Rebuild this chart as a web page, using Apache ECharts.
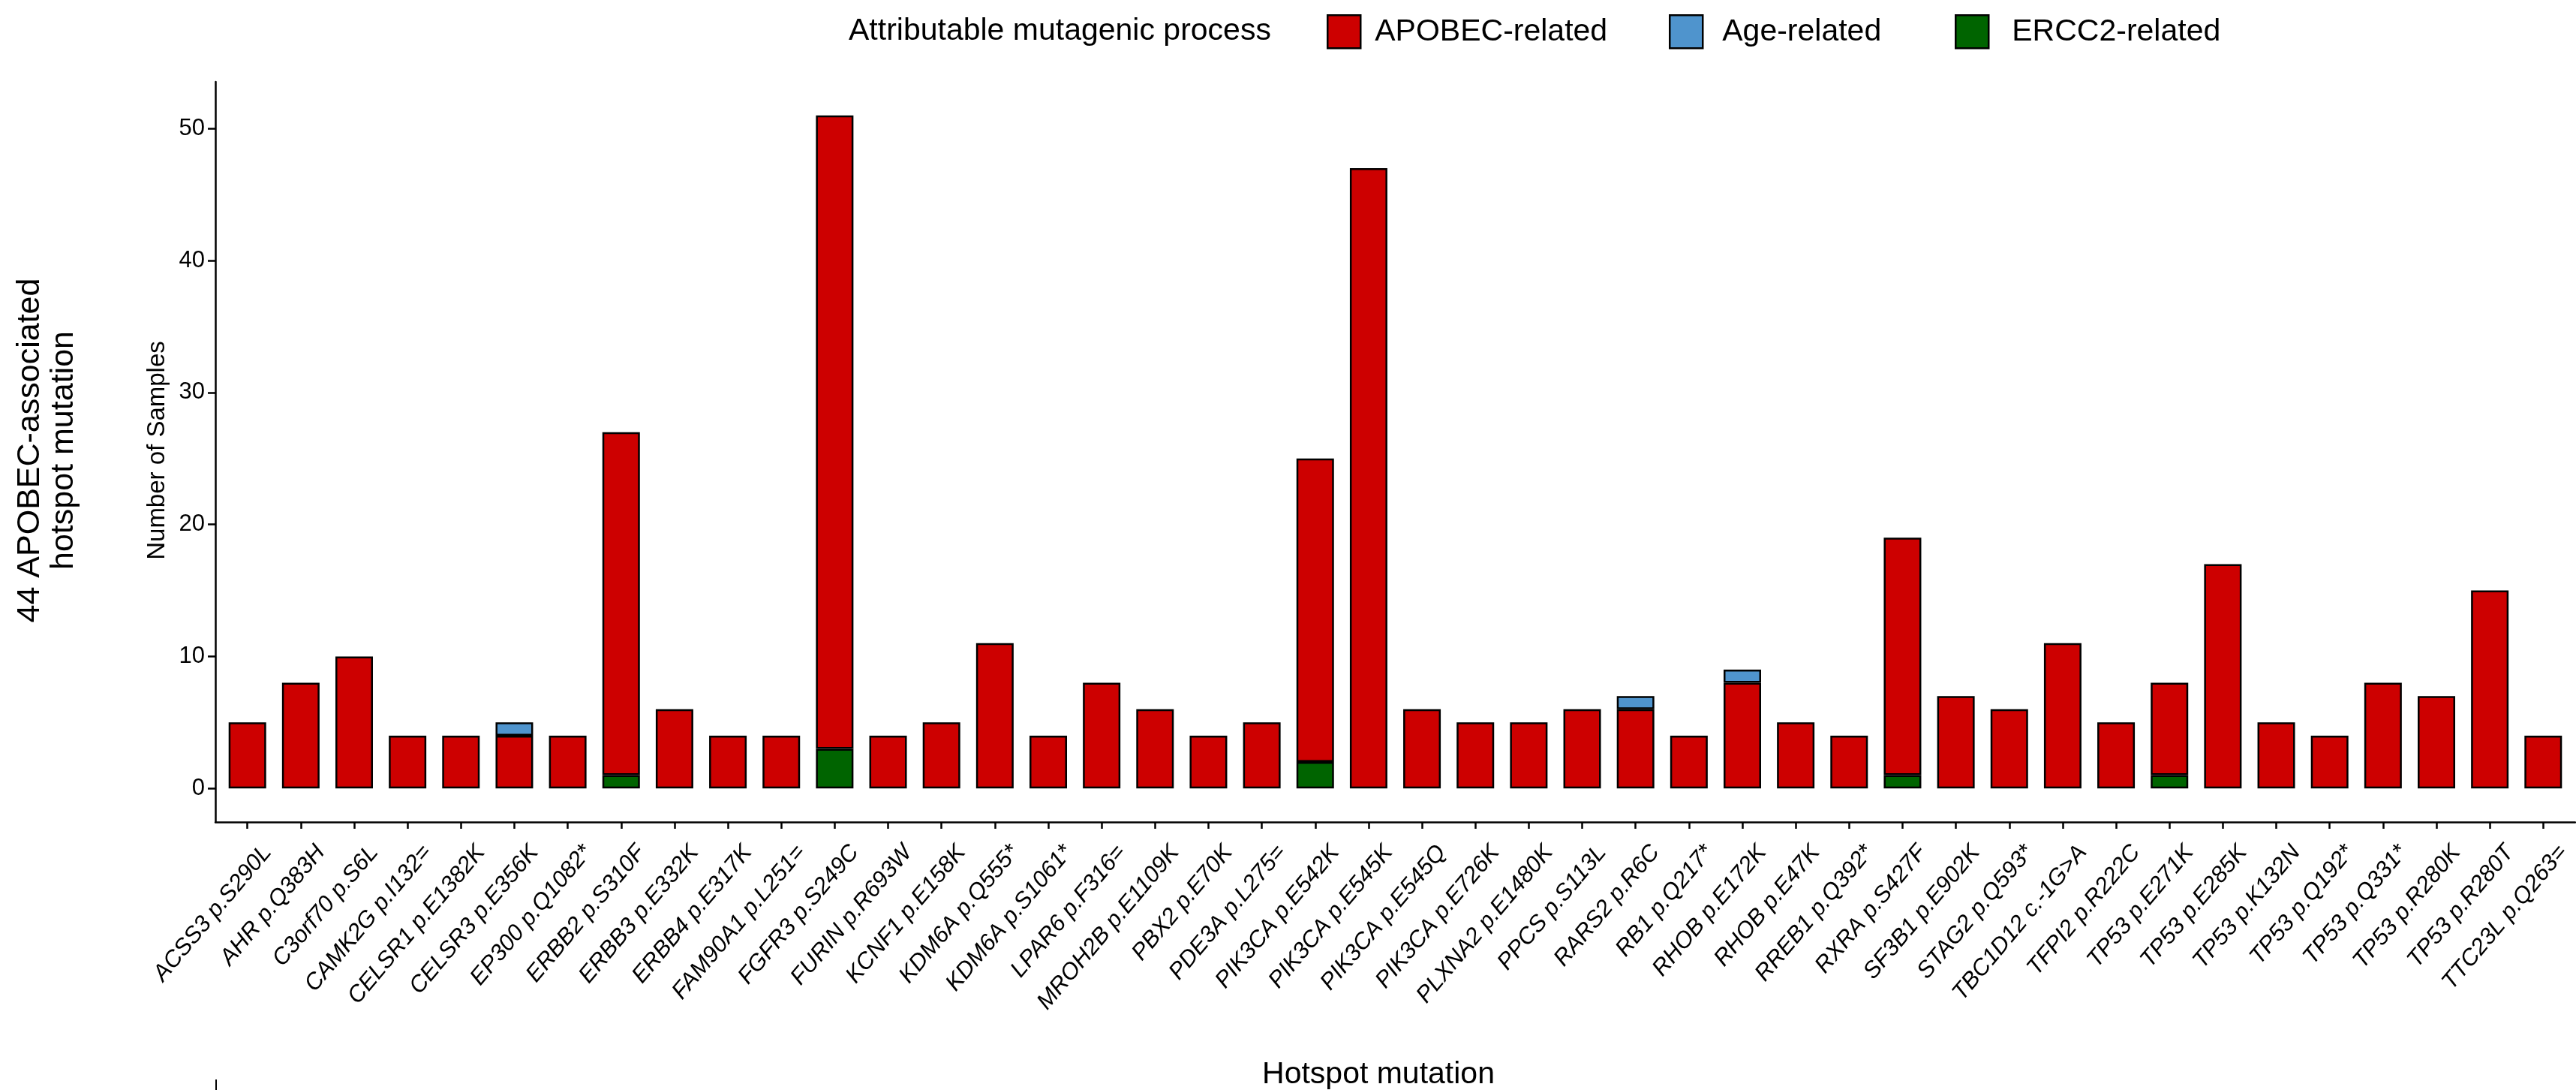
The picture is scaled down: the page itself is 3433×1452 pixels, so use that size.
<!DOCTYPE html>
<html>
<head>
<meta charset="utf-8">
<script src="https://cdn.jsdelivr.net/npm/echarts@6/dist/echarts.min.js"></script>
<style>
  html, body { margin: 0; padding: 0; background: #fff; }
  #chart { width: 3433px; height: 1452px; }
</style>
</head>
<body>
<div id="chart"></div>
<script>
// Hotspot mutations (x axis, in order)
const categories = [
  'ACSS3 p.S290L', 'AHR p.Q383H', 'C3orf70 p.S6L', 'CAMK2G p.I132=', 'CELSR1 p.E1382K',
  'CELSR3 p.E356K', 'EP300 p.Q1082*', 'ERBB2 p.S310F', 'ERBB3 p.E332K', 'ERBB4 p.E317K',
  'FAM90A1 p.L251=', 'FGFR3 p.S249C', 'FURIN p.R693W', 'KCNF1 p.E158K', 'KDM6A p.Q555*',
  'KDM6A p.S1061*', 'LPAR6 p.F316=', 'MROH2B p.E1109K', 'PBX2 p.E70K', 'PDE3A p.L275=',
  'PIK3CA p.E542K', 'PIK3CA p.E545K', 'PIK3CA p.E545Q', 'PIK3CA p.E726K', 'PLXNA2 p.E1480K',
  'PPCS p.S113L', 'RARS2 p.R6C', 'RB1 p.Q217*', 'RHOB p.E172K', 'RHOB p.E47K',
  'RREB1 p.Q392*', 'RXRA p.S427F', 'SF3B1 p.E902K', 'STAG2 p.Q593*', 'TBC1D12 c.-1G>A',
  'TFPI2 p.R222C', 'TP53 p.E271K', 'TP53 p.E285K', 'TP53 p.K132N', 'TP53 p.Q192*',
  'TP53 p.Q331*', 'TP53 p.R280K', 'TP53 p.R280T', 'TTC23L p.Q263='
];

// Number of samples per attributable process
const apobecRelated = [5, 8, 10, 4, 4, 4, 4, 26, 6, 4, 4, 48, 4, 5, 11, 4, 8, 6, 4, 5, 23, 47, 6, 5, 5, 6, 6, 4, 8, 5, 4, 18, 7, 6, 11, 5, 7, 17, 5, 4, 8, 7, 15, 4];
const ageRelated    = [0, 0, 0, 0, 0, 1, 0, 0, 0, 0, 0, 0, 0, 0, 0, 0, 0, 0, 0, 0, 0, 0, 0, 0, 0, 0, 1, 0, 1, 0, 0, 0, 0, 0, 0, 0, 0, 0, 0, 0, 0, 0, 0, 0];
const ercc2Related  = [0, 0, 0, 0, 0, 0, 0, 1, 0, 0, 0, 3, 0, 0, 0, 0, 0, 0, 0, 0, 2, 0, 0, 0, 0, 0, 0, 0, 0, 0, 0, 1, 0, 0, 0, 0, 1, 0, 0, 0, 0, 0, 0, 0];

// Axis ticks
const yTickValues = [0, 10, 20, 30, 40, 50];
const xPositions = categories.map((_, i) => i + 1);

const FONT = "'Liberation Sans', Arial, Helvetica, sans-serif";
const BLACK = '#000000';
const COLORS = { apobec: '#CD0000', age: '#4F94CD', ercc2: '#006400' };

// Rows are [samples, position]; category i sits at position i + 1.
// Samples come first so the stack is built on the count dimension.
const toRows = arr => arr.map((v, i) => [v > 0 ? v : null, i + 1]);

const barBase = {
  type: 'bar',
  stack: 'samples',
  barWidth: 50,
  dimensions: ['samples', 'position'],
  encode: { x: 'position', y: 'samples' },
  emphasis: { disabled: true },
  animation: false
};

const legendBase = {
  orient: 'horizontal',
  top: 19,
  padding: 0,
  icon: 'rect',
  itemWidth: 44,
  itemHeight: 44,
  selectedMode: false,
  itemStyle: { borderColor: BLACK, borderWidth: 2.5 },
  textStyle: { fontFamily: FONT, fontSize: 41, color: BLACK }
};

const chart = echarts.init(document.getElementById('chart'), null, { renderer: 'canvas' });

chart.setOption({
  backgroundColor: '#ffffff',
  animation: false,
  grid: { left: 287, right: 1, top: 109, bottom: 357, containLabel: false },
  legend: [
    Object.assign({}, legendBase, { left: 1768, data: ['APOBEC-related'],
      textStyle: Object.assign({}, legendBase.textStyle, { padding: [0, 0, 0, 14] }) }),
    Object.assign({}, legendBase, { left: 2224, data: ['Age-related'],
      textStyle: Object.assign({}, legendBase.textStyle, { padding: [0, 0, 0, 21] }) }),
    Object.assign({}, legendBase, { left: 2605, data: ['ERCC2-related'],
      textStyle: Object.assign({}, legendBase.textStyle, { padding: [0, 0, 0, 26] }) })
  ],
  xAxis: {
    type: 'value',
    min: 0.4,
    max: 44.6,
    position: 'bottom',
    axisLine: { show: true, onZero: false, lineStyle: { color: BLACK, width: 2.5 } },
    axisTick: { show: true, customValues: xPositions, length: 9, lineStyle: { color: BLACK, width: 2.5 } },
    axisLabel: {
      customValues: xPositions,
      formatter: v => categories[Math.round(v) - 1] || '',
      rotate: 50,
      fontStyle: 'italic',
      fontFamily: FONT,
      fontSize: 31,
      color: BLACK,
      margin: 13,
      verticalAlign: 'top',
      padding: [19, 0, 0, 0]
    },
    splitLine: { show: false }
  },
  yAxis: {
    type: 'value',
    min: -2.55,
    max: 53.55,
    axisLine: { show: true, lineStyle: { color: BLACK, width: 2.5 } },
    axisTick: { show: true, customValues: yTickValues, length: 10, lineStyle: { color: BLACK, width: 2.5 } },
    axisLabel: {
      customValues: yTickValues,
      fontFamily: FONT,
      fontSize: 31,
      color: BLACK,
      margin: 14
    },
    splitLine: { show: false }
  },
  series: [
    Object.assign({}, barBase, {
      name: 'ERCC2-related',
      data: toRows(ercc2Related),
      itemStyle: { color: COLORS.ercc2, borderColor: BLACK, borderWidth: 2.5 }
    }),
    Object.assign({}, barBase, {
      name: 'APOBEC-related',
      data: toRows(apobecRelated),
      itemStyle: { color: COLORS.apobec, borderColor: BLACK, borderWidth: 2.5 }
    }),
    Object.assign({}, barBase, {
      name: 'Age-related',
      data: toRows(ageRelated),
      itemStyle: { color: COLORS.age, borderColor: BLACK, borderWidth: 2.5 }
    })
  ],
  graphic: [
    {
      type: 'text', x: 1131, y: 42, silent: true,
      style: { text: 'Attributable mutagenic process', fontFamily: FONT, fontSize: 41, fill: BLACK,
               align: 'left', verticalAlign: 'middle' }
    },
    {
      type: 'text', x: 1837, y: 1432, silent: true,
      style: { text: 'Hotspot mutation', fontFamily: FONT, fontSize: 41, fill: BLACK,
               align: 'center', verticalAlign: 'middle' }
    },
    {
      type: 'text', x: 210, y: 600, rotation: Math.PI / 2, silent: true,
      style: { text: 'Number of Samples', fontFamily: FONT, fontSize: 33, fill: BLACK,
               align: 'center', verticalAlign: 'middle' }
    },
    {
      type: 'text', x: 63, y: 600, rotation: Math.PI / 2, silent: true,
      style: { text: '44 APOBEC-associated\nhotspot mutation', fontFamily: FONT, fontSize: 43,
               lineHeight: 45, fill: BLACK, align: 'center', verticalAlign: 'middle' }
    },
    {
      type: 'line', silent: true,
      shape: { x1: 288, y1: 1438, x2: 288, y2: 1452 },
      style: { stroke: BLACK, lineWidth: 2 }
    }
  ]
});
</script>
</body>
</html>
